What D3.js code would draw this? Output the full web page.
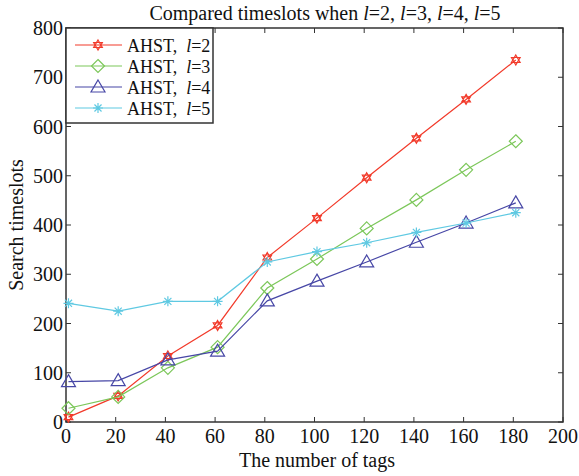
<!DOCTYPE html>
<html>
<head>
<meta charset="utf-8">
<script src="https://cdn.jsdelivr.net/npm/d3@7"></script>
<style>
  body { margin: 0; background: #fff; }
  svg text { font-family: "Liberation Serif", "DejaVu Serif", serif; fill: #111; }
</style>
</head>
<body>
<div id="chart"></div>
<script>
const TAGS = [1, 21, 41, 61, 81, 101, 121, 141, 161, 181];
const L2 = [10, 53, 134, 196, 334, 414, 496, 576, 655, 735];
const L3 = [28, 51, 110, 152, 272, 331, 393, 451, 512, 570];
const L4 = [82, 84, 126, 144, 246, 286, 325, 365, 404, 445];
const L5 = [241, 225, 245, 245, 325, 346, 364, 385, 404, 425];
const X_TICKS = [0, 20, 40, 60, 80, 100, 120, 140, 160, 180, 200];
const Y_TICKS = [0, 100, 200, 300, 400, 500, 600, 700, 800];

const SERIES = [
    {l: "2", values: L2, color: "#f23a2a", marker: "hexagram"},
    {l: "3", values: L3, color: "#7cc75a", marker: "diamond"},
    {l: "4", values: L4, color: "#4747a6", marker: "triangle"},
    {l: "5", values: L5, color: "#5fc9e2", marker: "asterisk"}
];

const W = 579, H = 476;
const M = {left: 66, right: 16, top: 28, bottom: 54};

const svg = d3.select("#chart").append("svg")
    .attr("width", W).attr("height", H)
    .attr("font-family", "Liberation Serif, serif");

const x = d3.scaleLinear().domain([0, 200]).range([M.left, W - M.right]);
const y = d3.scaleLinear().domain([0, 800]).range([H - M.bottom, M.top]);

// marker shapes, drawn around (0,0)
function markerPath(type) {
    if (type === "hexagram") {
        const r = 5;
        let p = d3.path();
        [0, 1].forEach(k => {
            for (let i = 0; i < 3; i++) {
                let a = -Math.PI / 2 + k * Math.PI + i * 2 * Math.PI / 3;
                let px = r * Math.cos(a), py = r * Math.sin(a);
                i === 0 ? p.moveTo(px, py) : p.lineTo(px, py);
            }
            p.closePath();
        });
        return p.toString();
    }
    if (type === "diamond") return "M0,-6.5L6.5,0L0,6.5L-6.5,0Z";
    if (type === "triangle") return "M0,-7L7,5L-7,5Z";
    // asterisk
    let p = d3.path();
    for (let i = 0; i < 4; i++) {
        let a = i * Math.PI / 4;
        p.moveTo(-5 * Math.cos(a), -5 * Math.sin(a));
        p.lineTo(5 * Math.cos(a), 5 * Math.sin(a));
    }
    return p.toString();
}

// plot box
svg.append("rect")
    .attr("x", M.left).attr("y", M.top)
    .attr("width", x(200) - M.left).attr("height", y(0) - M.top)
    .attr("fill", "#fff").attr("stroke", "#333").attr("stroke-width", 1.5);

// ticks inward on all sides
const tickLen = 5;
X_TICKS.forEach(t => {
    svg.append("line").attr("x1", x(t)).attr("x2", x(t))
        .attr("y1", y(0)).attr("y2", y(0) - tickLen).attr("stroke", "#333");
    svg.append("line").attr("x1", x(t)).attr("x2", x(t))
        .attr("y1", y(800)).attr("y2", y(800) + tickLen).attr("stroke", "#333");
    svg.append("text").attr("x", x(t)).attr("y", y(0) + 21)
        .attr("text-anchor", "middle").attr("font-size", 20).text(t);
});
Y_TICKS.forEach(t => {
    svg.append("line").attr("x1", x(0)).attr("x2", x(0) + tickLen)
        .attr("y1", y(t)).attr("y2", y(t)).attr("stroke", "#333");
    svg.append("line").attr("x1", x(200)).attr("x2", x(200) - tickLen)
        .attr("y1", y(t)).attr("y2", y(t)).attr("stroke", "#333");
    svg.append("text").attr("x", x(0) - 3).attr("y", y(t) + 7)
        .attr("text-anchor", "end").attr("font-size", 20).text(t);
});

// series
const line = d3.line().x((d, i) => x(TAGS[i])).y(d => y(d));
SERIES.forEach(s => {
    svg.append("path").datum(s.values)
        .attr("d", line).attr("fill", "none")
        .attr("stroke", s.color).attr("stroke-width", 1.2);
    svg.selectAll(null).data(s.values).enter().append("path")
        .attr("transform", (d, i) => "translate(" + x(TAGS[i]) + "," + y(d) + ")")
        .attr("d", markerPath(s.marker))
        .attr("fill", "none").attr("stroke", s.color).attr("stroke-width", 1.2);
});

// legend
const lg = svg.append("g");
lg.append("rect").attr("x", x(0)).attr("y", M.top)
    .attr("width", 147).attr("height", 95)
    .attr("fill", "#fff").attr("stroke", "#333").attr("stroke-width", 1.5);
SERIES.forEach((s, i) => {
    let ly = M.top + 17 + i * 21;
    lg.append("line").attr("x1", 75).attr("x2", 122).attr("y1", ly).attr("y2", ly)
        .attr("stroke", s.color).attr("stroke-width", 1.2);
    lg.append("path").attr("transform", "translate(98," + ly + ")")
        .attr("d", markerPath(s.marker))
        .attr("fill", "none").attr("stroke", s.color).attr("stroke-width", 1.2);
    let t = lg.append("text").attr("x", 127).attr("y", ly + 7).attr("font-size", 18);
    t.append("tspan").text("AHST,\u00a0\u00a0");
    t.append("tspan").attr("font-style", "italic").text("l");
    t.append("tspan").text("=" + s.l);
});

// title
const title = svg.append("text").attr("x", 325).attr("y", 20)
    .attr("text-anchor", "middle").attr("font-size", 20);
title.append("tspan").text("Compared timeslots when ");
SERIES.forEach((s, i) => {
    title.append("tspan").attr("font-style", "italic").text("l");
    title.append("tspan").text("=" + s.l + (i < SERIES.length - 1 ? ", " : ""));
});

svg.append("text").attr("x", 317).attr("y", 467)
    .attr("text-anchor", "middle").attr("font-size", 20).text("The number of tags");
svg.append("text")
    .attr("transform", "translate(23," + (y(400)) + ") rotate(-90)")
    .attr("text-anchor", "middle").attr("font-size", 20).text("Search timeslots");
</script>
</body>
</html>
